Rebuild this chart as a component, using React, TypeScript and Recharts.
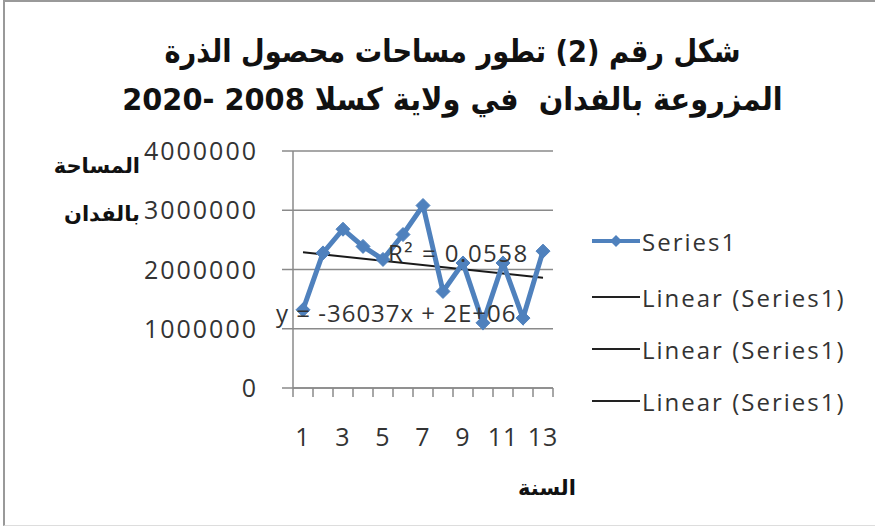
import React from 'react';
import { LineChart, Line, XAxis, YAxis, CartesianGrid } from 'recharts';

// years are numbered 1..13 (2008 - 2020)
const years = [1, 2, 3, 4, 5, 6, 7, 8, 9, 10, 11, 12, 13];
const areas = [1320000, 2280000, 2680000, 2390000, 2170000, 2590000, 3080000, 1630000, 2110000, 1100000, 2110000, 1180000, 2310000];
// linear trend, only its two ends
const trend = [2290000, null, null, null, null, null, null, null, null, null, null, null, 1860000];
const yTicks = [0, 1000000, 2000000, 3000000, 4000000];
const xLabels = [1, 3, 5, 7, 9, 11, 13];

const titleLines = ['شكل رقم (2) تطور مساحات محصول الذرة', 'المزروعة بالفدان  في ولاية كسلا 2008 -2020'];
const yLabelLines = ['المساحة', 'بالفدان'];
const xLabel = 'السنة';
const legendNames = ['Series1', 'Linear (Series1)', 'Linear (Series1)', 'Linear (Series1)'];
const rSquared = 'R² = 0.0558';
const equation = 'y = -36037x + 2E+06';

const data = years.map((y, i) => ({ year: y, area: areas[i], trend: trend[i] }));

// boundaries between categories get tick marks, odd years get labels
const boundaries = [0.5, ...years.map((y) => y + 0.5)];
const xTicks = [...boundaries, ...xLabels].sort((a, b) => a - b);

const BLUE = '#4F81BD';
const GRID = '#8a8a8a';
const TXT = '#333';
const latin = '"Open Sans", "DejaVu Sans", sans-serif';
const arabic = '"DejaVu Sans", "Liberation Sans", sans-serif';

const Diamond = (props: any) => {
  const { cx, cy } = props;
  if (cx == null || cy == null) return null;
  const s = 7;
  return <path d={`M${cx},${cy - s}L${cx + s},${cy}L${cx},${cy + s}L${cx - s},${cy}Z`} fill={BLUE} stroke={BLUE} />;
};

const XTick = (props: any) => {
  const { x, y, payload } = props;
  const v = payload.value;
  if (Number.isInteger(v)) {
    return (
      <text x={x} y={y + 58} textAnchor="middle" fontSize={25} fontFamily={latin} letterSpacing={1} fill={TXT}>
        {v}
      </text>
    );
  }
  return <line x1={x} y1={y} x2={x} y2={y + 9} stroke={GRID} strokeWidth={1.5} />;
};

const YTick = (props: any) => {
  const { x, y, payload } = props;
  return (
    <text x={x} y={y + 9} textAnchor="end" fontSize={25} fontFamily={latin} letterSpacing={2} fill={TXT}>
      {payload.value}
    </text>
  );
};

export default function App() {
  return (
    <div style={{ position: 'fixed', left: 0, top: 0, width: 875, height: 527, background: '#fff', overflow: 'hidden' }}>
      <div style={{ position: 'absolute', left: 3, top: 0, width: 872, height: 526, borderLeft: '2px solid #999', borderTop: '2px solid #999', borderBottom: '1px solid #ddd', boxSizing: 'border-box' }} />

      <div dir="rtl" style={{ position: 'absolute', left: 0, top: 27, width: 905, textAlign: 'center', fontFamily: arabic, fontWeight: 'bold', fontSize: 31, lineHeight: '48px', color: '#111', whiteSpace: 'pre' }}>
        {titleLines.map((t, i) => (
          <div key={i} style={{ transform: `scaleX(${i === 0 ? 0.88 : 0.93})`, transformOrigin: '452px 0' }}>{t}</div>
        ))}
      </div>

      <div dir="rtl" style={{ position: 'absolute', left: 30, top: 142, width: 110, textAlign: 'right', fontFamily: arabic, fontWeight: 'bold', fontSize: 21, lineHeight: '48px', color: '#111' }}>
        {yLabelLines.map((t, i) => (
          <div key={i}>{t}</div>
        ))}
      </div>

      <div dir="rtl" style={{ position: 'absolute', left: 497, top: 476, width: 100, textAlign: 'center', fontFamily: arabic, fontWeight: 'bold', fontSize: 21, color: '#111' }}>
        {xLabel}
      </div>

      <div style={{ position: 'absolute', left: 0, top: 0 }}>
        <LineChart width={875} height={527} data={data} margin={{ top: 151, right: 322, bottom: 79, left: 0 }}>
          <CartesianGrid vertical={false} stroke={GRID} strokeWidth={1.5} />
          <XAxis
            dataKey="year"
            type="number"
            domain={[0.5, 13.5]}
            ticks={xTicks}
            interval={0}
            height={60}
            tickSize={0}
            tickMargin={0}
            tickLine={false}
            axisLine={{ stroke: GRID, strokeWidth: 1.5 }}
            tick={<XTick />}
          />
          <YAxis
            width={293}
            domain={[0, 4000000]}
            ticks={yTicks}
            interval={0}
            tickSize={11}
            tickMargin={24}
            tickLine={{ stroke: GRID, strokeWidth: 1.5 }}
            axisLine={{ stroke: GRID, strokeWidth: 1.5 }}
            tick={<YTick />}
          />
          <Line dataKey="trend" connectNulls stroke="#1a1a1a" strokeWidth={2} dot={false} isAnimationActive={false} />
          <Line dataKey="area" type="linear" stroke={BLUE} strokeWidth={5} dot={<Diamond />} isAnimationActive={false} />
        </LineChart>
      </div>

      <div style={{ position: 'absolute', left: 388, top: 236, fontFamily: latin, fontSize: 24, letterSpacing: 1.5, color: TXT, whiteSpace: 'nowrap' }}>
        {rSquared}
      </div>
      <div style={{ position: 'absolute', left: 276, top: 296, fontFamily: latin, fontSize: 24, letterSpacing: 1, color: TXT, whiteSpace: 'nowrap' }}>
        {equation}
      </div>

      {legendNames.map((name, i) => (
        <div key={i} style={{ position: 'absolute', left: 590, top: [224, 280, 332, 384][i], height: 34, display: 'flex', alignItems: 'center', whiteSpace: 'nowrap' }}>
          <svg width={52} height={20}>
            <line x1={2} y1={10} x2={50} y2={10} stroke={i === 0 ? BLUE : '#222'} strokeWidth={i === 0 ? 4 : 1.8} />
            {i === 0 && <path d="M26,4L32,10L26,16L20,10Z" fill={BLUE} />}
          </svg>
          <span style={{ fontFamily: latin, fontSize: 24, letterSpacing: 2, color: TXT }}>{name}</span>
        </div>
      ))}
    </div>
  );
}
